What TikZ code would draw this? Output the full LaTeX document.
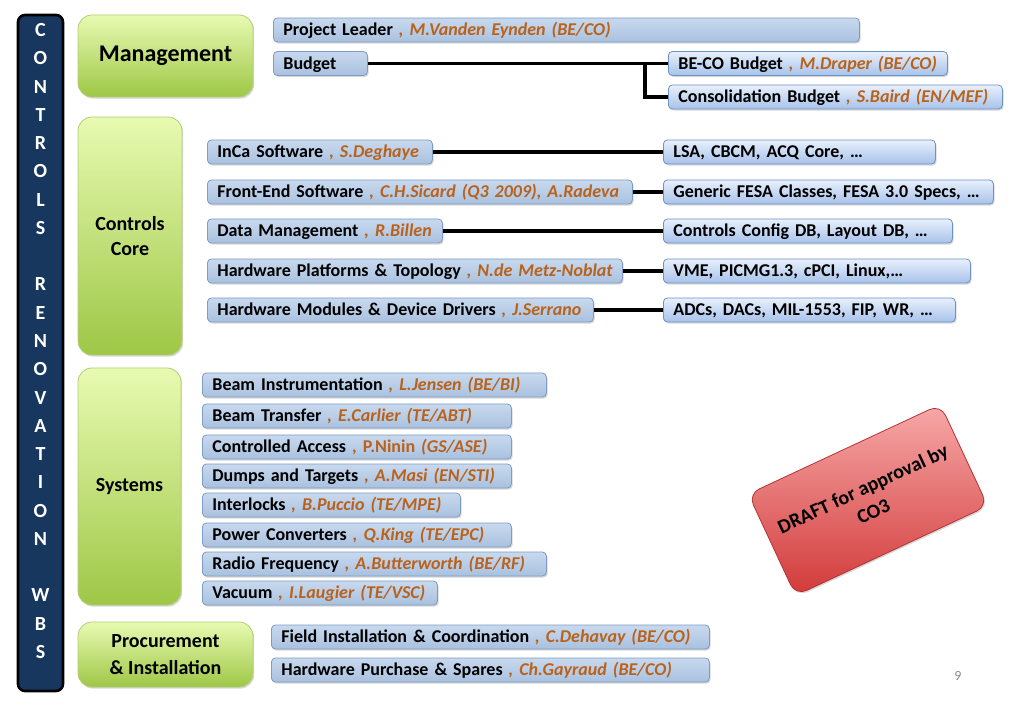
\documentclass[tikz,border=0pt]{standalone}
\usepackage{fontspec}
\setmainfont{Carlito}
\usetikzlibrary{shadows}
\definecolor{navy}{HTML}{17375E}
\definecolor{gtop}{HTML}{E8FAB2}
\definecolor{gbot}{HTML}{9EC746}
\definecolor{gbord}{HTML}{B2CF78}
\definecolor{ltop}{HTML}{C8D9EE}
\definecolor{lbot}{HTML}{A9C1DF}
\definecolor{lbord}{HTML}{7E9BC4}
\definecolor{rtop}{HTML}{E8F0FC}
\definecolor{rbot}{HTML}{A7C2EA}
\definecolor{rbord}{HTML}{6E92C6}
\definecolor{nmcol}{HTML}{B9621C}
\definecolor{dtop}{HTML}{F7A8A8}
\definecolor{dbot}{HTML}{D23A3A}
\definecolor{dbord}{HTML}{B43434}
\newcommand{\nm}[1]{{\itshape\color{nmcol}#1}}
\newcommand{\nmu}[1]{{\color{nmcol}#1}}
\begin{document}
\begin{tikzpicture}[x=1pt,y=-1pt,
  shad/.style={drop shadow={shadow xshift=1.2pt,shadow yshift=-1.6pt,fill=black!35,opacity=0.45}},
  boxbase/.style={line width=0.8pt, rounded corners=4pt, anchor=west,
    minimum height=24pt, inner xsep=10pt, inner ysep=0pt,
    text height=11.6pt, text depth=0pt, align=left,
    font=\fontsize{18}{20}\selectfont\bfseries, shad,
    execute at begin node={\hbox\bgroup}, execute at end node={\egroup}},
  lbox/.style={boxbase, draw=lbord, top color=ltop, bottom color=lbot},
  rbox/.style={boxbase, draw=rbord, top color=rtop, bottom color=rbot},
  gbox/.style={draw=gbord, line width=0.8pt, rounded corners=14pt,
    top color=gtop, bottom color=gbot, align=center, inner sep=0pt,
    font=\fontsize{20}{25}\selectfont\bfseries, shad},
  conn/.style={line width=3.2pt, black},
  barletter/.style={text=white, font=\fontsize{20}{20}\selectfont\bfseries,
    inner sep=0pt, text height=13pt, text depth=0pt}
]
\useasboundingbox (0,0) rectangle (1023,708);

% left bar
\node[draw=black, line width=2.6pt, fill=navy, rounded corners=7pt,
  minimum width=45pt, minimum height=676pt, inner sep=0pt] (bar) at (40.5,353) {};
\foreach \l/\k in {C/0,O/1,N/2,T/3,R/4,O/5,L/6,S/7,R/9,E/10,N/11,O/12,V/13,A/14,T/15,I/16,O/17,N/18,W/20,B/21,S/22}
  \node[barletter] (bl\k) at (40.5,{30+28.27*\k}) {\l};

% green category boxes
\node[gbox, minimum width=175pt, minimum height=82pt, font=\fontsize{24}{28}\selectfont\bfseries] (mgmt) at (165.5,56) {Management};
\node[gbox, minimum width=104pt, minimum height=238pt] (core) at (130,236) {Controls\\Core};
\node[gbox, minimum width=103pt, minimum height=237pt] (sys) at (129.5,486.5) {Systems};
\node[gbox, minimum width=175pt, minimum height=65pt, font=\fontsize{20}{27}\selectfont\bfseries] (proc) at (165.5,654.5) {Procurement\\\& Installation};

% management
\node[lbox, text width=566pt] (pl) at (273,30) {Project Leader \nm{, M.Vanden Eynden (BE/CO)}};
\node[lbox, text width=74pt] (budget) at (273,63.5) {Budget};
\node[rbox, text width=259pt] (beco) at (668,63.5) {BE-CO Budget \nm{, M.Draper (BE/CO)}};
\node[rbox, text width=314pt] (consol) at (668,97) {Consolidation Budget \nm{, S.Baird (EN/MEF)}};
\coordinate (j) at (645,63.5);
\draw[conn] (budget.east) -- (beco.west);
\draw[conn] (j) |- (consol.west);

% controls core
\node[lbox, text width=205pt] (inca) at (207,152) {InCa Software \nm{, S.Deghaye}};
\node[lbox, text width=405pt] (fe) at (207,192) {Front-End Software \nm{, C.H.Sicard (Q3 2009), A.Radeva}};
\node[lbox, text width=215pt] (dm) at (207,231) {Data Management \nm{, R.Billen}};
\node[lbox, text width=395pt] (hwp) at (207,271) {Hardware Platforms \& Topology \nm{, N.de Metz-Noblat}};
\node[lbox, text width=366pt] (hwm) at (207,310) {Hardware Modules \& Device Drivers \nm{, J.Serrano}};

\node[rbox, text width=252pt] (lsa) at (663,152) {LSA, CBCM, ACQ Core, …};
\node[rbox, text width=310pt] (fesa) at (663,192) {Generic FESA Classes, FESA 3.0 Specs, …};
\node[rbox, text width=269pt] (ccdb) at (663,231) {Controls Config DB, Layout DB, …};
\node[rbox, text width=287pt] (vme) at (663,271) {VME, PICMG1.3, cPCI, Linux,…};
\node[rbox, text width=272pt] (adc) at (663,310) {ADCs, DACs, MIL-1553, FIP, WR, …};

\draw[conn] (inca.east) -- (lsa.west);
\draw[conn] (fe.east) -- (fesa.west);
\draw[conn] (dm.east) -- (ccdb.west);
\draw[conn] (hwp.east) -- (vme.west);
\draw[conn] (hwm.east) -- (adc.west);

% systems
\node[lbox, text width=324pt] (bi) at (202,385) {Beam Instrumentation \nm{, L.Jensen (BE/BI)}};
\node[lbox, text width=289pt] (bt) at (202,416) {Beam Transfer \nm{, E.Carlier (TE/ABT)}};
\node[lbox, text width=289pt] (ca) at (202,447) {Controlled Access \nmu{, P.Ninin }\nm{(GS/ASE)}};
\node[lbox, text width=289pt] (dt) at (202,476) {Dumps and Targets \nm{, A.Masi (EN/STI)}};
\node[lbox, text width=238pt] (il) at (202,505) {Interlocks \nm{, B.Puccio (TE/MPE)}};
\node[lbox, text width=289pt] (pc) at (202,535) {Power Converters \nm{, Q.King (TE/EPC)}};
\node[lbox, text width=324pt] (rf) at (202,564) {Radio Frequency \nm{, A.Butterworth (BE/RF)}};
\node[lbox, text width=215pt] (vac) at (202,593) {Vacuum \nm{, I.Laugier (TE/VSC)}};

% procurement
\node[lbox, text width=418pt] (fic) at (271,637) {Field Installation \& Coordination \nm{, C.Dehavay (BE/CO)}};
\node[lbox, text width=418pt] (hwps) at (271,670) {Hardware Purchase \& Spares \nm{, Ch.Gayraud (BE/CO)}};

% draft stamp
\node[draw=dbord, line width=0.8pt, rounded corners=12pt, top color=dtop, bottom color=dbot,
  minimum width=212pt, minimum height=112pt, rotate=25, align=center, shad,
  font=\fontsize{20}{25}\selectfont\bfseries] (draft) at (868,500) {DRAFT for approval by\\CO3};

% page number
\node[text=black!45, font=\fontsize{14}{16}\selectfont] (pg) at (958,676) {9};
\end{tikzpicture}
\end{document}
